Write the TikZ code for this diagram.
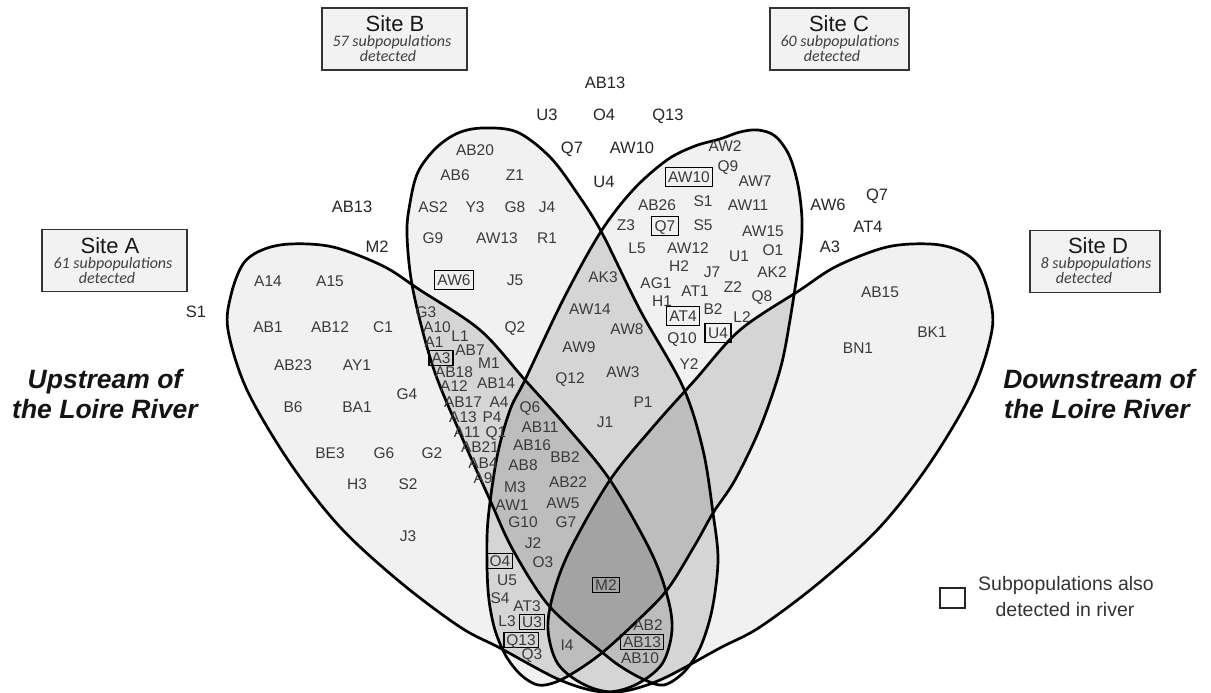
\documentclass[tikz,border=0pt]{standalone}
\usepackage{fontspec}
\setmainfont{Liberation Sans}
\newfontfamily\carl{Carlito}
\definecolor{cone}{HTML}{F1F1F1}
\definecolor{ctwo}{HTML}{D5D5D5}
\definecolor{cthree}{HTML}{BDBDBD}
\definecolor{cfour}{HTML}{A3A3A3}
\definecolor{labgray}{HTML}{3A3A3A}
\definecolor{outgray}{HTML}{262626}
\definecolor{boxfill}{HTML}{F2F2F2}
\newcommand\shA[1]{\path[#1] plot[smooth cycle, tension=0.55] coordinates {(228,-330) (231,-295) (243,-264) (262,-250) (290,-244) (333,-247) (383,-266) (420,-290) (480,-330) (525,-380) (567,-427) (610,-480) (650,-550) (667,-595) (672,-630) (662,-664) (635,-685) (603,-692) (560,-680) (500,-648) (460,-627) (400,-582) (340,-527) (290,-463) (247,-390)};}
\newcommand\shD[1]{\path[#1, shift={(1220,0)}, xscale=-1] plot[smooth cycle, tension=0.55] coordinates {(228,-330) (231,-295) (243,-264) (262,-250) (290,-244) (333,-247) (383,-266) (420,-290) (480,-330) (525,-380) (567,-427) (610,-480) (650,-550) (667,-595) (672,-630) (662,-664) (635,-685) (603,-692) (560,-680) (500,-648) (460,-627) (400,-582) (340,-527) (290,-463) (247,-390)};}
\newcommand\shB[1]{\path[#1] plot[smooth cycle, tension=0.55] coordinates {(407,-235) (410,-203) (418,-172) (436,-148) (458,-133) (483,-128) (517,-132) (550,-157) (577,-193) (602,-233) (640,-310) (683,-387) (703,-450) (713,-513) (718,-560) (712,-610) (700,-648) (684,-672) (664,-685) (645,-680) (623,-668) (603,-653) (550,-607) (513,-550) (490,-500) (460,-433) (433,-367) (413,-290)};}
\newcommand\shC[1]{\path[#1] plot[smooth cycle, tension=0.55] coordinates {(720,-139) (740,-132) (758,-130) (775,-136) (789,-155) (798,-185) (802,-220) (800,-253) (790,-320) (780,-370) (760,-428) (735,-480) (713,-513) (695,-545) (667,-590) (635,-623) (603,-652) (578,-670) (556,-682) (538,-685) (521,-675) (506,-656) (495,-630) (489,-600) (487,-565) (488,-520) (497,-457) (510,-410) (525,-380) (563,-300) (600,-233) (633,-190) (667,-160) (695,-146)};}
\begin{document}
\begin{tikzpicture}[x=1pt,y=1pt,
  lab/.style={font=\fontsize{15.5}{15.5}\selectfont, text=labgray, inner sep=0pt, text height=11pt, text depth=0pt},
  rbox/.style={lab, draw=black, line width=1.3pt, inner xsep=3pt, inner ysep=4pt},
  sbox/.style={rbox, inner xsep=2.5pt, inner ysep=2.2pt},
  outl/.style={lab, font=\fontsize{16.5}{16.5}\selectfont, text=outgray, text height=11.8pt},
  sitebox/.style={draw=black!80, line width=1.6pt, fill=boxfill, minimum width=#1, minimum height=62pt, inner sep=0pt},
  sitet/.style={anchor=base, inner sep=0pt, font=\fontsize{22}{22}\selectfont, text=black!90},
  subt/.style={anchor=base, inner sep=0pt, font=\carl\itshape\fontsize{16}{16}\selectfont, text=black!75},
  river/.style={anchor=base, inner sep=0pt, font=\bfseries\itshape\fontsize{26.5}{26.5}\selectfont, text=black!92},
  legt/.style={inner sep=0pt, font=\fontsize{19.5}{19.5}\selectfont, text=black!80},
  outline/.style={draw=black, line width=2.7pt}
]
\useasboundingbox (0,0) rectangle (1211,-693);
\fill[white] (0,0) rectangle (1211,-693);
% single sets
\shA{fill=cone}\shB{fill=cone}\shC{fill=cone}\shD{fill=cone}
% pairs
\begin{scope}\shA{clip}\shB{fill=ctwo}\end{scope}
\begin{scope}\shA{clip}\shC{fill=ctwo}\end{scope}
\begin{scope}\shA{clip}\shD{fill=ctwo}\end{scope}
\begin{scope}\shB{clip}\shC{fill=ctwo}\end{scope}
\begin{scope}\shB{clip}\shD{fill=ctwo}\end{scope}
\begin{scope}\shC{clip}\shD{fill=ctwo}\end{scope}
% triples
\begin{scope}\shA{clip}\shB{clip}\shC{fill=cthree}\end{scope}
\begin{scope}\shA{clip}\shB{clip}\shD{fill=cthree}\end{scope}
\begin{scope}\shA{clip}\shC{clip}\shD{fill=cthree}\end{scope}
\begin{scope}\shB{clip}\shC{clip}\shD{fill=cthree}\end{scope}
% all four
\begin{scope}\shA{clip}\shB{clip}\shC{clip}\shD{fill=cfour}\end{scope}
% outlines
\shA{outline}\shB{outline}\shC{outline}\shD{outline}

% site boxes
\node[sitebox=145pt] (sA) at (114.5,-260.5) {};
\node[sitet] (sAt) at (110,-253) {Site A};
\node[subt] (sAs) at (113,-268) {61 subpopulations};
\node[subt] (sAd) at (107,-283) {detected};
\node[sitebox=145pt] (sB) at (394.5,-39) {};
\node[sitet] (sBt) at (395,-32) {Site B};
\node[subt] (sBs) at (392,-47) {57 subpopulations};
\node[subt] (sBd) at (388,-62) {detected};
\node[sitebox=139pt] (sC) at (839.5,-39) {};
\node[sitet] (sCt) at (839,-32) {Site C};
\node[subt] (sCs) at (840,-47) {60 subpopulations};
\node[subt] (sCd) at (832,-62) {detected};
\node[sitebox=130pt] (sD) at (1095,-261.5) {};
\node[sitet] (sDt) at (1098,-253) {Site D};
\node[subt] (sDs) at (1096,-268) {8 subpopulations};
\node[subt] (sDd) at (1084,-283) {detected};

% river texts
\node[river] (up1) at (105,-388) {Upstream of};
\node[river] (up2) at (105,-418) {the Loire River};
\node[river] (dn1) at (1099,-388) {Downstream of};
\node[river] (dn2) at (1097,-418) {the Loire River};

% legend
\node[draw=black!85, line width=1.4pt, minimum width=25pt, minimum height=20pt, inner sep=0pt] (legbox) at (952.5,-598) {};
\node[legt] (leg1) at (1066,-585) {Subpopulations also};
\node[legt] (leg2) at (1065,-610) {detected in river};

% outside labels
\node[outl] (oAB13a) at (605,-83) {AB13};
\node[outl] (oU3) at (547,-115) {U3};
\node[outl] (oO4) at (604,-115) {O4};
\node[outl] (oQ13) at (668,-115) {Q13};
\node[outl] (oQ7a) at (572,-148) {Q7};
\node[outl] (oAW10) at (632,-148) {AW10};
\node[outl] (oU4) at (604,-182) {U4};
\node[outl] (oAB13b) at (352,-207) {AB13};
\node[outl] (oM2) at (377,-247) {M2};
\node[outl] (oS1) at (196,-312) {S1};
\node[outl] (oAW6) at (828,-205) {AW6};
\node[outl] (oQ7b) at (877,-195) {Q7};
\node[outl] (oAT4) at (868,-227) {AT4};
\node[outl] (oA3) at (830,-247) {A3};

% A only
\node[lab] (A14) at (268,-281) {A14};
\node[lab] (A15) at (330,-281) {A15};
\node[lab] (AB1) at (268,-327) {AB1};
\node[lab] (AB12) at (330,-327) {AB12};
\node[lab] (C1) at (383,-327) {C1};
\node[lab] (AB23) at (293,-365) {AB23};
\node[lab] (AY1) at (357,-365) {AY1};
\node[lab] (G4) at (407,-394) {G4};
\node[lab] (B6) at (293,-407) {B6};
\node[lab] (BA1) at (357,-407) {BA1};
\node[lab] (BE3) at (330,-453) {BE3};
\node[lab] (G6) at (384,-453) {G6};
\node[lab] (G2) at (432,-453) {G2};
\node[lab] (H3) at (357,-484) {H3};
\node[lab] (S2) at (408,-484) {S2};
\node[lab] (J3) at (408,-536) {J3};

% A and B
\node[lab] (G3) at (426,-312) {G3};
\node[lab] (A10) at (437,-327) {A10};
\node[lab] (L1) at (460,-336) {L1};
\node[lab] (A1) at (434,-342) {A1};
\node[sbox] (A3) at (441,-358) {A3};
\node[lab] (AB7) at (470,-350) {AB7};
\node[lab] (AB18) at (454,-372) {AB18};
\node[lab] (M1) at (489,-363) {M1};
\node[lab] (A12) at (454,-386) {A12};
\node[lab] (AB14) at (496,-383) {AB14};
\node[lab] (AB17) at (463,-402) {AB17};
\node[lab] (A4) at (499,-402) {A4};
\node[lab] (A13) at (463,-417) {A13};
\node[lab] (P4) at (492,-417) {P4};
\node[lab] (A11) at (467,-432) {A11};
\node[lab] (Q1) at (496,-432) {Q1};
\node[lab] (AB21) at (480,-447) {AB21};
\node[lab] (AB4) at (483,-463) {AB4};
\node[lab] (A9) at (483,-478) {A9};

% B only
\node[lab] (AB20) at (475,-150) {AB20};
\node[lab] (AB6) at (455,-175) {AB6};
\node[lab] (Z1) at (515,-175) {Z1};
\node[lab] (AS2) at (433,-207) {AS2};
\node[lab] (Y3) at (475,-207) {Y3};
\node[lab] (G8) at (515,-207) {G8};
\node[lab] (J4) at (547,-207) {J4};
\node[lab] (G9) at (433,-238) {G9};
\node[lab] (AW13) at (497,-238) {AW13};
\node[lab] (R1) at (547,-238) {R1};
\node[rbox] (AW6) at (454,-280) {AW6};
\node[lab] (J5) at (515,-280) {J5};
\node[lab] (Q2) at (515,-327) {Q2};

% B and C
\node[lab] (AK3) at (603,-277) {AK3};
\node[lab] (AW14) at (590,-309) {AW14};
\node[lab] (AW8) at (627,-329) {AW8};
\node[lab] (AW9) at (579,-347) {AW9};
\node[lab] (AW3) at (623,-372) {AW3};
\node[lab] (Q12) at (570,-378) {Q12};
\node[lab] (P1) at (643,-402) {P1};
\node[lab] (J1) at (605,-422) {J1};

% C only
\node[lab] (AW2) at (725,-146) {AW2};
\node[lab] (Q9) at (728,-166) {Q9};
\node[rbox] (AW10) at (689,-177) {AW10};
\node[lab] (AW7) at (755,-181) {AW7};
\node[lab] (AB26) at (657,-205) {AB26};
\node[lab] (S1) at (703,-201) {S1};
\node[lab] (AW11) at (748,-205) {AW11};
\node[lab] (Z3) at (626,-225) {Z3};
\node[rbox] (Q7) at (665,-226) {Q7};
\node[lab] (S5) at (703,-225) {S5};
\node[lab] (AW15) at (763,-231) {AW15};
\node[lab] (L5) at (637,-248) {L5};
\node[lab] (AW12) at (688,-248) {AW12};
\node[lab] (O1) at (773,-250) {O1};
\node[lab] (U1) at (739,-256) {U1};
\node[lab] (H2) at (679,-266) {H2};
\node[lab] (J7) at (712,-272) {J7};
\node[lab] (AK2) at (772,-272) {AK2};
\node[lab] (AG1) at (656,-283) {AG1};
\node[lab] (AT1) at (695,-291) {AT1};
\node[lab] (Z2) at (733,-287) {Z2};
\node[lab] (Q8) at (762,-296) {Q8};
\node[lab] (H1) at (662,-301) {H1};
\node[rbox] (AT4) at (683,-316) {AT4};
\node[lab] (B2) at (713,-309) {B2};
\node[lab] (L2) at (742,-317) {L2};
\node[rbox] (U4) at (718,-333) {U4};
\node[lab] (Q10) at (682,-338) {Q10};
\node[lab] (Y2) at (689,-364) {Y2};

% A, B and C
\node[lab] (Q6) at (530,-407) {Q6};
\node[lab] (AB11) at (540,-427) {AB11};
\node[lab] (AB16) at (532,-445) {AB16};
\node[lab] (BB2) at (565,-457) {BB2};
\node[lab] (AB8) at (523,-465) {AB8};
\node[lab] (AB22) at (568,-482) {AB22};
\node[lab] (M3) at (515,-487) {M3};
\node[lab] (AW1) at (512,-505) {AW1};
\node[lab] (AW5) at (563,-503) {AW5};
\node[lab] (G10) at (523,-522) {G10};
\node[lab] (G7) at (566,-522) {G7};
\node[lab] (J2) at (533,-543) {J2};
\node[lab] (O3) at (543,-562) {O3};

% A and C
\node[sbox] (O4) at (500,-561) {O4};
\node[lab] (U5) at (507,-580) {U5};
\node[lab] (S4) at (500,-598) {S4};
\node[lab] (AT3) at (527,-606) {AT3};
\node[lab] (L3) at (507,-621) {L3};
\node[sbox] (U3) at (532,-622) {U3};
\node[sbox] (Q13) at (521,-640) {Q13};
\node[lab] (Q3) at (532,-654) {Q3};

% A, C and D
\node[lab] (I4) at (567,-645) {I4};
% all four
\node[sbox] (M2) at (606,-585) {M2};
% A, B and D
\node[lab] (AB2) at (648,-625) {AB2};
\node[sbox] (AB13) at (642,-642) {AB13};
\node[lab] (AB10) at (640,-658) {AB10};

% D only
\node[lab] (AB15) at (880,-292) {AB15};
\node[lab] (BN1) at (858,-348) {BN1};
\node[lab] (BK1) at (932,-332) {BK1};
\end{tikzpicture}
\end{document}
